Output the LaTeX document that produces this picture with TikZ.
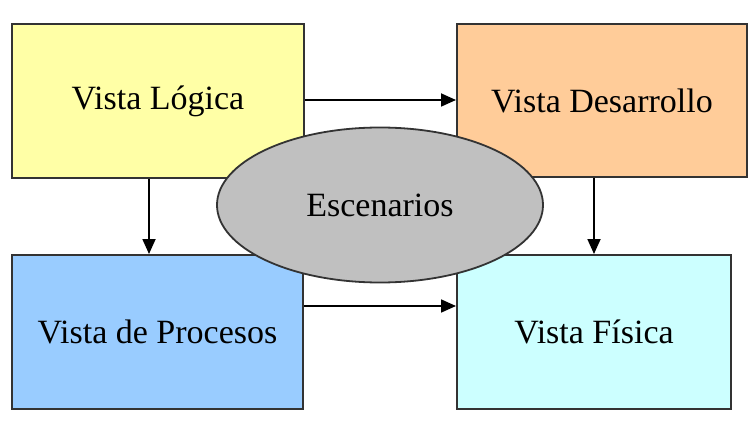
\documentclass[tikz,border=0pt]{standalone}
\usepackage{fontspec}
\setmainfont{Liberation Serif}
\usetikzlibrary{arrows.meta,shapes.geometric}
\definecolor{cyel}{HTML}{FFFFA6}
\definecolor{cora}{HTML}{FFCC99}
\definecolor{cblu}{HTML}{99CCFF}
\definecolor{ccya}{HTML}{CCFFFF}
\definecolor{cgry}{HTML}{C0C0C0}
\definecolor{cedge}{HTML}{333333}
\begin{document}
\begin{tikzpicture}[x=1pt,y=-1pt,
  viewbox/.style={draw=cedge,line width=2pt,inner sep=0pt,font=\fontsize{34}{40}\selectfont},
  conn/.style={draw=black,line width=1.8pt,-{Triangle[length=15pt,width=13pt]}}]
\useasboundingbox[fill=white] (0,0) rectangle (753,425);
\node[viewbox,fill=cyel,minimum width=292pt,minimum height=154pt] (log) at (158,101) {Vista Lógica};
\node[viewbox,fill=cora,minimum width=290pt,minimum height=153pt] (des) at (602,100.5) {Vista Desarrollo};
\node[viewbox,fill=cblu,minimum width=291pt,minimum height=154pt] (pro) at (157.5,332) {Vista de Procesos};
\node[viewbox,fill=ccya,minimum width=274pt,minimum height=154pt] (fis) at (594,332) {Vista Física};
\draw[conn] (log.east |- 0,100) -- (des.west |- 0,100);
\draw[conn] (log.south -| 149,0) -- (pro.north -| 149,0);
\draw[conn] (des.south -| 594,0) -- (fis.north -| 594,0);
\draw[conn] (pro.east |- 0,306) -- (fis.west |- 0,306);
\node[ellipse,draw=cedge,line width=1.8pt,fill=cgry,minimum width=326pt,minimum height=155pt,inner sep=0pt,font=\fontsize{34}{40}\selectfont] (esc) at (380,205) {Escenarios};
\end{tikzpicture}
\end{document}
